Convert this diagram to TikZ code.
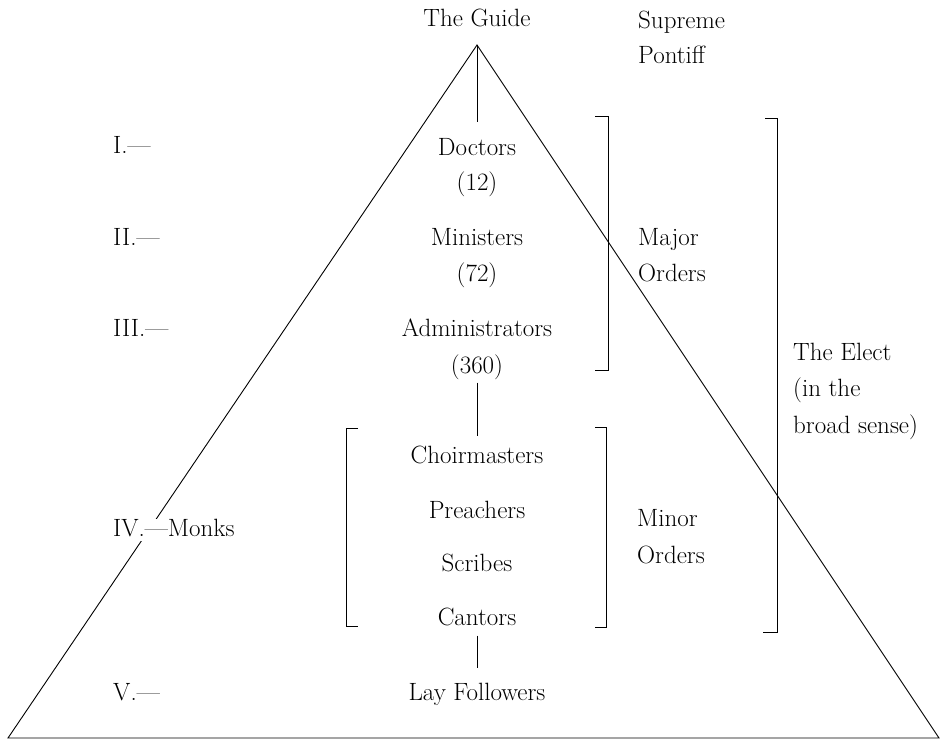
\documentclass[tikz,border=0pt]{standalone}
\begin{document}
\begin{tikzpicture}[x=1pt,y=-1pt,
  lbl/.style={inner sep=0pt,text height=17pt,text depth=0pt,font=\fontsize{25}{30}\selectfont},
  lft/.style={lbl,anchor=west},
  edge/.style={line width=0.9pt},
  brk/.style={line width=0.9pt}]
\useasboundingbox (0,0) rectangle (942,739);
% triangle
\coordinate (apex) at (477,45);
\coordinate (bl) at (8,738);
\coordinate (br) at (939,738);
\draw[edge] (apex) -- (bl) -- (br) -- cycle;
% centre column
\node[lbl] (guide) at (477,18) {The Guide};
\node[lbl] (doctors) at (477,147) {Doctors};
\node[lbl] (n12) at (477,182) {(12)};
\node[lbl] (ministers) at (477,237) {Ministers};
\node[lbl] (n72) at (477,273) {(72)};
\node[lbl] (admin) at (477,328) {Administrators};
\node[lbl] (n360) at (477,365) {(360)};
\node[lbl] (choir) at (477,455) {Choirmasters};
\node[lbl] (preach) at (477,510) {Preachers};
\node[lbl] (scribes) at (477,563) {Scribes};
\node[lbl] (cantors) at (477,617) {Cantors};
\node[lbl] (lay) at (477,692) {Lay Followers};
% connectors
\draw[edge,shorten >=16pt] (apex) -- (doctors.north);
\draw[edge,shorten <=9pt,shorten >=10pt] (n360.south) -- (choir.north);
\draw[edge,shorten <=10pt,shorten >=15pt] (cantors.south) -- (lay.north);
% left labels
\node[lft] (r1) at (113,145) {I.---};
\node[lft] (r2) at (113,237) {II.---};
\node[lft] (r3) at (113,328) {III.---};
\node[lft,fill=white,inner xsep=1pt,text depth=5pt] (r4) at (112,530) {IV.---Monks};
\node[lft] (r5) at (113,692) {V.---};
% right labels
\node[lft] (sup1) at (638,20) {Supreme};
\node[lft] (sup2) at (638,55) {Pontiff};
\node[lft] (maj1) at (638,237) {Major};
\node[lft] (maj2) at (638,273) {Orders};
\node[lft] (min1) at (637,518) {Minor};
\node[lft] (min2) at (637,555) {Orders};
\node[lft] (el1) at (793,352) {The Elect};
\node[lft] (el2) at (793,388) {(in the};
\node[lft] (el3) at (793,425) {broad sense)};
% brackets
\draw[brk] (595,116) -- (608,116) -- (608,370) -- (595,370);
\draw[brk] (765,118) -- (777,118) -- (777,632) -- (763,632);
\draw[brk] (595,427) -- (606,427) -- (606,627) -- (595,627);
\draw[brk] (358,428) -- (346,428) -- (346,626) -- (358,626);
\end{tikzpicture}
\end{document}
